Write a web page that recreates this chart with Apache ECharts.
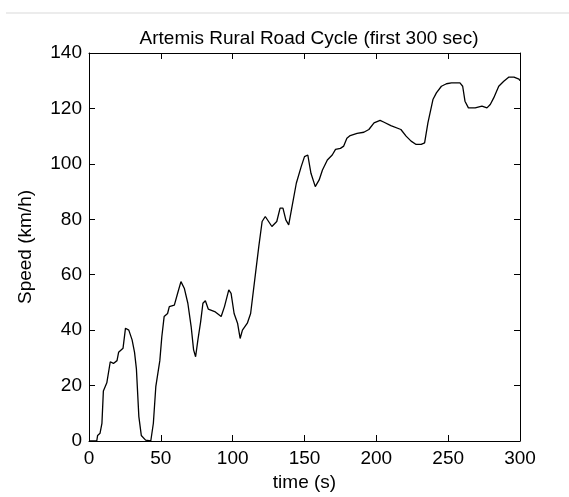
<!DOCTYPE html>
<html>
<head>
<meta charset="utf-8">
<script src="https://cdn.jsdelivr.net/npm/echarts@6/dist/echarts.min.js"></script>
<style>html,body{margin:0;padding:0;background:#fff;}#c{width:569px;height:497px;}</style>
</head>
<body>
<div id="c"></div>
<script>
const titleText = 'Artemis Rural Road Cycle (first 300 sec)';
const xName = 'time (s)';
const yName = 'Speed (km/h)';
const xTicks = [0, 50, 100, 150, 200, 250, 300];
const yTicks = [0, 20, 40, 60, 80, 100, 120, 140];
const times = [0, 5.4, 6, 7.7, 9, 10, 12.4, 14.8, 17, 19.5, 20.6, 23.7, 25.4, 27.7, 30, 31.7, 33, 34.7, 36.4, 39.4, 43, 44.8, 46.5, 49.3, 50.7, 52.3, 54.7, 55.9, 59.4, 61.7, 64, 66.4, 68.8, 71.1, 72.8, 74.2, 75.8, 77.7, 79.3, 81, 83, 87.5, 92, 94.3, 97.3, 98.9, 101, 103.4, 105.2, 106.8, 110.2, 112.5, 115.9, 118.2, 120.5, 122.7, 125, 127.3, 130.7, 133, 135, 137, 139, 140.9, 144.3, 147.7, 150, 152.3, 154.5, 157.5, 160.2, 162.5, 165.9, 169.3, 171.6, 175, 177.3, 179.5, 181.8, 186.6, 191.3, 194.8, 198.4, 202.6, 205.4, 210.1, 217.1, 220.7, 224.2, 227.7, 231.2, 233.6, 235.9, 239.4, 241.8, 245.3, 248.8, 252.3, 258.2, 260.1, 261.7, 264.1, 268.8, 273.5, 277, 279.3, 281.7, 285.2, 288.7, 292.3, 295.8, 299.3, 300];
const speeds = [0, 0, 2, 2.8, 6.4, 18, 21, 28.6, 28, 29, 32, 33.5, 40.7, 40, 36.5, 32, 26, 8.8, 2, 0.3, 0, 6.4, 19.6, 29, 37.7, 44.9, 46, 48.5, 49, 53.3, 57.5, 55, 49.7, 41.3, 32.9, 30.4, 36.5, 43, 49.7, 50.6, 47.6, 46.7, 44.9, 48.5, 54.5, 53.3, 46, 42.5, 37, 40, 42.5, 46, 60.5, 70.2, 79.2, 81, 79.2, 77.4, 79.2, 84, 84, 79.8, 78, 83.4, 93, 99, 102.6, 103.2, 96.6, 91.8, 94.2, 97.8, 101.4, 103.2, 105.2, 105.6, 106.4, 109.2, 110.2, 111, 111.4, 112.4, 114.8, 115.7, 115, 113.8, 112.4, 110, 108.2, 107, 107, 107.6, 114.8, 123.2, 125.6, 128, 128.9, 129.2, 129.2, 128, 122.6, 120.2, 120.2, 120.8, 120.2, 121.4, 123.8, 128, 129.8, 131.3, 131.3, 130.6, 130];

const data = times.map((t, i) => [t, speeds[i]]);
const font = 'Liberation Sans, Arial, sans-serif';
const fs = 19;
const axisCommon = {
  type: 'value',
  axisLine: { show: true, onZero: false, lineStyle: { color: '#000', width: 1 } },
  axisTick: { show: true, inside: true, length: 6, lineStyle: { color: '#000' } },
  splitLine: { show: false }
};
const chart = echarts.init(document.getElementById('c'), null, { renderer: 'canvas' });
chart.setOption({
  animation: false,
  backgroundColor: '#fff',
  title: {
    text: titleText, left: 304, top: 24, textAlign: 'center',
    textStyle: { fontFamily: font, fontSize: fs, fontWeight: 'normal', color: '#000' }
  },
  graphic: [{
    type: 'line', shape: { x1: 6, y1: 13, x2: 569, y2: 13 },
    style: { stroke: '#ececec', lineWidth: 2 }
  }],
  grid: { left: 89, right: 49, top: 53, bottom: 56, containLabel: false },
  xAxis: [
    Object.assign({}, axisCommon, {
      min: xTicks[0], max: xTicks[xTicks.length - 1], interval: 50,
      position: 'bottom',
      name: xName, nameLocation: 'middle', nameGap: 30,
      nameTextStyle: { fontFamily: font, fontSize: fs, color: '#000' },
      axisLabel: { fontFamily: font, fontSize: fs, color: '#000', margin: 8 }
    }),
    Object.assign({}, axisCommon, {
      min: xTicks[0], max: xTicks[xTicks.length - 1], interval: 50,
      position: 'top', axisLabel: { show: false }
    })
  ],
  yAxis: [
    Object.assign({}, axisCommon, {
      min: yTicks[0], max: yTicks[yTicks.length - 1], interval: 20,
      position: 'left',
      name: yName, nameLocation: 'middle', nameGap: 54, nameRotate: 90,
      nameTextStyle: { fontFamily: font, fontSize: fs, color: '#000' },
      axisLabel: { fontFamily: font, fontSize: fs, color: '#000', margin: 7 }
    }),
    Object.assign({}, axisCommon, {
      min: yTicks[0], max: yTicks[yTicks.length - 1], interval: 20,
      position: 'right', axisLabel: { show: false }
    })
  ],
  series: [{
    type: 'line', data: data, xAxisIndex: 0, yAxisIndex: 0,
    showSymbol: false, symbol: 'none',
    lineStyle: { color: '#000', width: 1.3 },
    clip: true
  }]
});
</script>
</body>
</html>
